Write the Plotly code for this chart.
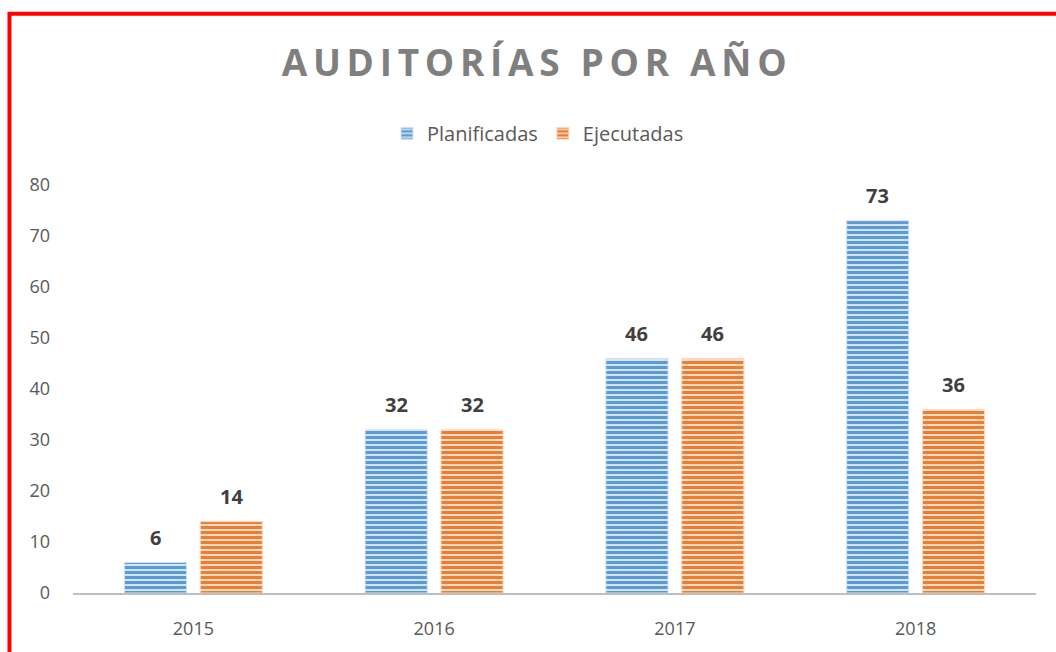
import plotly.graph_objects as go

years = ["2015", "2016", "2017", "2018"]
planificadas = [6, 32, 46, 73]
ejecutadas = [14, 32, 46, 36]
series_names = ["Planificadas", "Ejecutadas"]

BLUE = "#5b9bd5"
BLUE_BG = "#d3e4f4"
ORANGE = "#ed7d31"
ORANGE_BG = "#fbdcc6"

BARGAP = 0.37
BARGROUPGAP = 0.18

fig = go.Figure()
for name, vals, fg, bg in [
    (series_names[0], planificadas, BLUE, BLUE_BG),
    (series_names[1], ejecutadas, ORANGE, ORANGE_BG),
]:
    fig.add_trace(go.Bar(
        name=name, x=years, y=vals,
        marker=dict(
            color=bg,
            line=dict(color=bg, width=1),
            pattern=dict(shape="-", fgcolor=fg, bgcolor=bg, fgopacity=1,
                         size=5, solidity=0.6, fillmode="overlay"),
        ),
        hoverinfo="x+y",
    ))

# data labels placed above each bar
offset = (1 - BARGAP) / 4
annotations = []
for si, vals in enumerate([planificadas, ejecutadas]):
    sign = -1 if si == 0 else 1
    for i, v in enumerate(vals):
        annotations.append(dict(
            x=i + sign * offset, y=v, xref="x", yref="y",
            text=f"<b>{v}</b>", showarrow=False, yshift=25,
            font=dict(family="Open Sans", size=20, color="#404040"),
        ))

fig.update_layout(
    width=1056, height=652,
    margin=dict(l=73, r=20, t=185, b=56),
    paper_bgcolor="white", plot_bgcolor="white",
    barmode="group", bargap=BARGAP, bargroupgap=BARGROUPGAP,
    title=dict(
        text="<b>AUDITORÍAS POR AÑO</b>",
        x=537 / 1056, xanchor="center",
        y=1 - 63 / 652, yanchor="middle", yref="container",
        font=dict(family="Open Sans", size=37, color="#7f7f7f"),
    ),
    legend=dict(
        orientation="h", x=(538 - 73) / 963, xanchor="center",
        y=(596 - 133) / 411, yanchor="middle",
        font=dict(family="Open Sans", size=20, color="#595959"),
    ),
    xaxis=dict(
        showgrid=False, showline=True, linecolor="#bfbfbf", linewidth=2,
        ticks="", tickfont=dict(family="Open Sans", size=18, color="#595959"),
        ticklabelstandoff=18,
    ),
    yaxis=dict(
        range=[0, 80], dtick=10, showgrid=False, showline=False, zeroline=False,
        ticks="", tickfont=dict(family="Open Sans", size=18, color="#595959"),
        ticklabelstandoff=22,
    ),
    annotations=annotations,
    shapes=[dict(
        type="rect", xref="paper", yref="paper",
        x0=(9.5 - 73) / 963, x1=1.2,
        y0=-0.3, y1=(596 - 12.5) / 411,
        line=dict(color="#ff0000", width=4), fillcolor="rgba(0,0,0,0)",
    )],
)

post = """
document.body.style.margin='0';
var t = document.querySelector('.gtitle');
if (t) { t.style.letterSpacing = '5.7px'; }
"""
fig.write_html("out.html", config={"displayModeBar": False}, post_script=post)
